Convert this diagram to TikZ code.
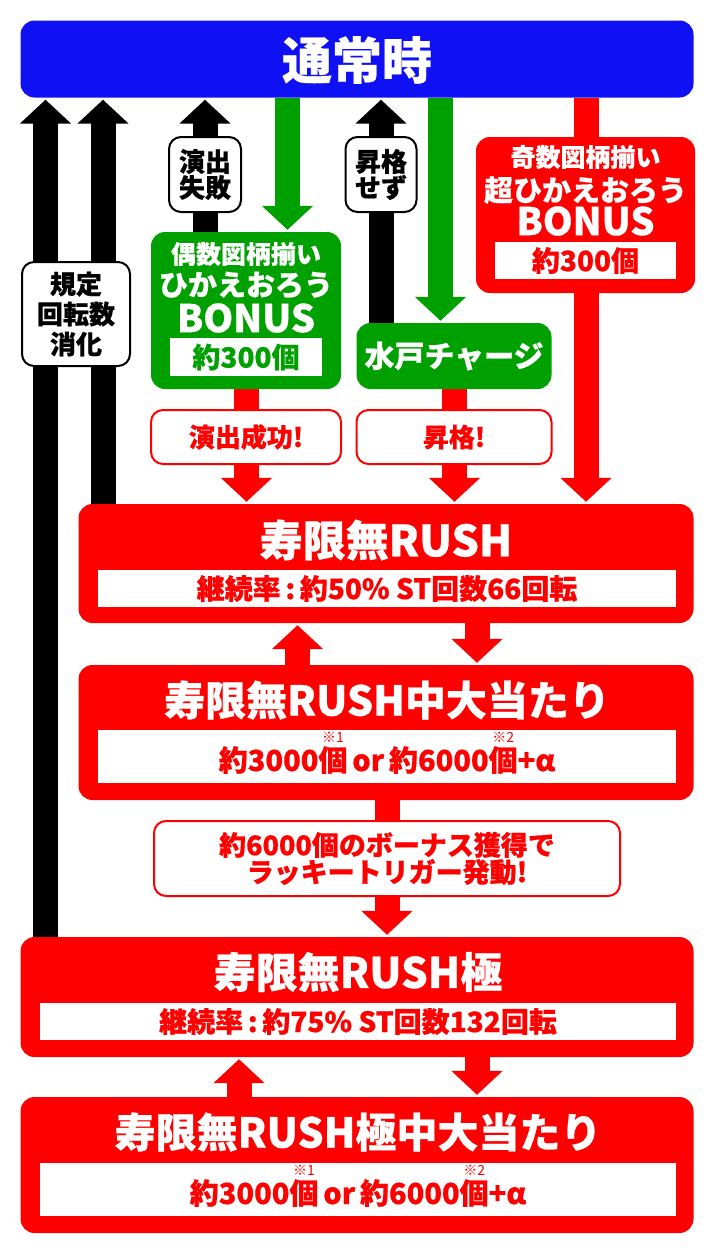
\documentclass[tikz,border=0pt]{standalone}
\usepackage{fontspec}
\setmainfont{Noto Sans CJK JP}[BoldFeatures={FakeBold=0.6}]
\usetikzlibrary{arrows.meta}
\pgfdeclarelayer{bg}
\pgfsetlayers{bg,main}
\definecolor{cblue}{RGB}{16,16,245}
\definecolor{cgreen}{RGB}{0,160,0}
\definecolor{cred}{RGB}{255,0,0}
\newcommand\kome[2]{\ooalign{#1\cr\hidewidth\raisebox{0.97em}{\fontsize{14pt}{14pt}\selectfont\mdseries #2}\hidewidth\cr}}
\newcommand\fs[1]{\fontsize{#1pt}{#1pt}\selectfont}
\newcommand\fss[2]{\fontsize{#1pt}{#2pt}\selectfont}
\tikzset{
  bigbox/.style={rounded corners=14pt, inner sep=0pt, draw=none},
  inbox/.style={fill=white, inner sep=0pt, draw=none, font=\bfseries\fs{28}},
  wtext/.style={text=white, inner sep=0pt, font=\bfseries},
  rtext/.style={text=cred, inner sep=0pt, font=\bfseries\fs{29}},
  lblblack/.style={draw=black, line width=2pt, fill=white, rounded corners=12pt, inner sep=0pt, text=black, align=center, font=\bfseries\fss{26}{26}},
  lblred/.style={draw=cred, line width=2pt, fill=white, rounded corners=12pt, inner sep=0pt, text=cred, align=center, font=\bfseries\fss{26}{27}},
  arw/.style={line width=25pt, -{Triangle[length=24pt,width=50pt]}, shorten >=2pt},
  shaft/.style={line width=25pt}
}
\begin{document}
\begin{tikzpicture}[x=1pt,y=-1pt]
\useasboundingbox (0,0) rectangle (712,1253);
% main boxes
\node[bigbox, fill=cblue, minimum width=673pt, minimum height=77pt] (normal) at (357,59) {};
\node[wtext, font=\bfseries\fs{50}] (normalT) at (357,60) {通常時};

\node[bigbox, fill=cgreen, minimum width=190pt, minimum height=157pt] (green1) at (246,310.5) {};
\node[wtext, font=\bfseries\fs{25}] (g1a) at (246,254) {偶数図柄揃い};
\node[wtext, font=\bfseries\fs{29}] (g1b) at (246,285) {ひかえおろう};
\node[wtext, font=\bfseries\fs{38}] (g1c) at (246,318) {BONUS};
\node[inbox, text=cgreen, minimum width=152pt, minimum height=38pt, font=\bfseries\fs{28}] (g1d) at (246,357) {約300個};

\node[bigbox, fill=cgreen, minimum width=195pt, minimum height=66pt] (mito) at (454,356) {};
\node[wtext, font=\bfseries\fs{30}] (mitoT) at (454,356) {水戸チャージ};

\node[bigbox, fill=cred, minimum width=219pt, minimum height=156pt] (red1) at (585.5,215) {};
\node[wtext, font=\bfseries\fs{25}] (r1a) at (585.5,157) {奇数図柄揃い};
\node[wtext, font=\bfseries\fs{29}] (r1b) at (585.5,190) {超ひかえおろう};
\node[wtext, font=\bfseries\fs{38}] (r1c) at (585.5,221) {BONUS};
\node[inbox, text=cred, minimum width=181pt, minimum height=37pt, font=\bfseries\fs{28}] (r1d) at (585.5,260.5) {約300個};

\node[bigbox, fill=cred, minimum width=615pt, minimum height=119pt] (rush) at (386,563.5) {};
\node[wtext, font=\bfseries\fs{43}] (rushT) at (386,540) {寿限無RUSH};
\node[inbox, text=cred, minimum width=578pt, minimum height=37pt] (rushS) at (387,588.5) {継続率\,:\,約50\% ST回数66回転};

\node[bigbox, fill=cred, minimum width=615pt, minimum height=135pt] (rushHit) at (386,732.5) {};
\node[wtext, font=\bfseries\fs{41}] (rushHitT) at (387,700) {寿限無RUSH中大当たり};
\node[inbox, minimum width=578pt, minimum height=53pt] (rushHitS) at (387,756.5) {};
\node[rtext, anchor=base] (rushHitST) at (387,771) {約3000\kome{個}{※1}\,or\,約6000\kome{個}{※2}+α};

\node[bigbox, fill=cred, minimum width=673pt, minimum height=120pt] (kiwami) at (357,997) {};
\node[wtext, font=\bfseries\fs{42}] (kiwamiT) at (358,972) {寿限無RUSH極};
\node[inbox, text=cred, minimum width=636pt, minimum height=37pt] (kiwamiS) at (358,1021.5) {継続率\,:\,約75\% ST回数132回転};

\node[bigbox, fill=cred, minimum width=673pt, minimum height=136pt] (kiwamiHit) at (357,1165) {};
\node[wtext, font=\bfseries\fs{41}] (kiwamiHitT) at (358,1132) {寿限無RUSH極中大当たり};
\node[inbox, minimum width=636pt, minimum height=53pt] (kiwamiHitS) at (358,1189.5) {};
\node[rtext, anchor=base] (kiwamiHitST) at (358,1204) {約3000\kome{個}{※1}\,or\,約6000\kome{個}{※2}+α};

% labels
\node[lblblack, minimum width=108pt, minimum height=104pt, font=\bfseries\fss{26}{30}] (rule) at (76,314) {規定\\回転数\\消化};
\node[lblblack, minimum width=72pt, minimum height=75pt] (failL) at (205,174.5) {演出\\失敗};
\node[lblblack, minimum width=71pt, minimum height=75pt] (noupL) at (381,174.5) {昇格\\せず};
\node[lblred, minimum width=190pt, minimum height=54pt] (succL) at (246,437) {演出成功!};
\node[lblred, minimum width=195pt, minimum height=54pt] (upL) at (454,437) {昇格!};
\node[lblred, minimum width=466pt, minimum height=75pt, font=\bfseries\fss{27}{27}] (luckyL) at (387,858.5) {約6000個のボーナス獲得で\\ラッキートリガー発動!};

% x positions of arrows
\coordinate (xa) at (45.5,0);
\coordinate (xb) at (103,0);
\coordinate (xc) at (205,0);
\coordinate (xd) at (381,0);
\coordinate (xe) at (287.5,0);
\coordinate (xf) at (440.5,0);
\coordinate (xg) at (586,0);
\coordinate (xh) at (246.5,0);
\coordinate (xi) at (454.5,0);
\coordinate (xj) at (297.5,0);
\coordinate (xk) at (477,0);
\coordinate (xl) at (387,0);
\coordinate (xm) at (239,0);

\begin{pgfonlayer}{bg}
\draw[arw, black] (xa |- kiwami.north) -- (xa |- normal.south);
\draw[arw, black] (xb |- rush.north) -- (xb |- normal.south);
\draw[arw, black] (xc |- green1.north) -- (xc |- normal.south);
\draw[arw, black] (xd |- mito.north) -- (xd |- normal.south);
\draw[arw, cgreen] (xe |- normal.south) -- (xe |- green1.north);
\draw[arw, cgreen] (xf |- normal.south) -- (xf |- mito.north);
\draw[shaft, cred] (xg |- normal.south) -- (xg |- red1.north);
\draw[arw, cred] (xg |- red1.south) -- (xg |- rush.north);
\draw[shaft, cred] (xh |- green1.south) -- (xh |- succL.north);
\draw[arw, cred] (xh |- succL.south) -- (xh |- rush.north);
\draw[shaft, cred] (xi |- mito.south) -- (xi |- upL.north);
\draw[arw, cred] (xi |- upL.south) -- (xi |- rush.north);
\draw[arw, cred] (xj |- rushHit.north) -- (xj |- rush.south);
\draw[arw, cred] (xk |- rush.south) -- (xk |- rushHit.north);
\draw[shaft, cred] (xl |- rushHit.south) -- (xl |- luckyL.north);
\draw[arw, cred] (xl |- luckyL.south) -- (xl |- kiwami.north);
\draw[arw, cred] (xm |- kiwamiHit.north) -- (xm |- kiwami.south);
\draw[arw, cred] (xk |- kiwami.south) -- (xk |- kiwamiHit.north);
\end{pgfonlayer}
\end{tikzpicture}
\end{document}
